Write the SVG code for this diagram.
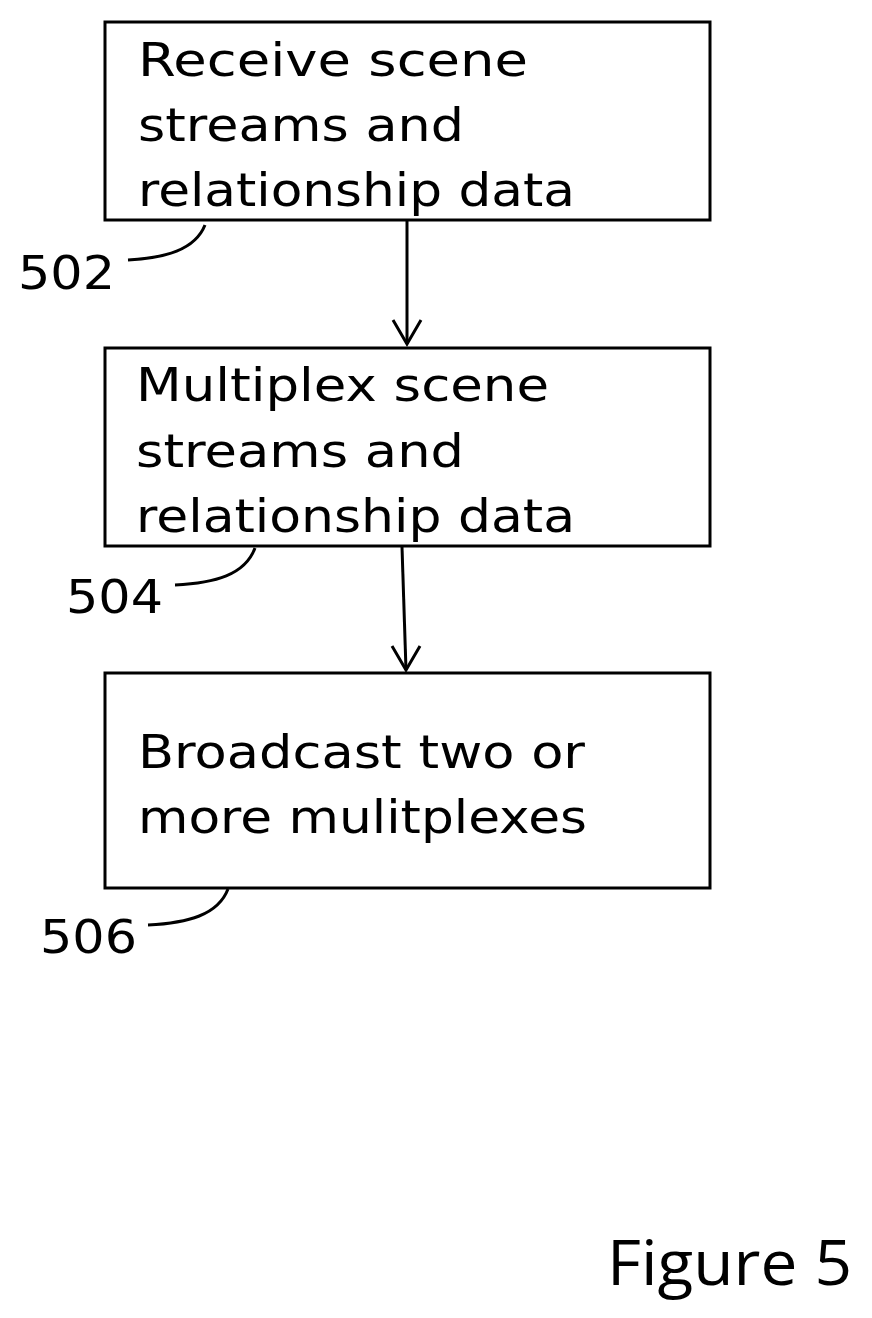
<svg xmlns="http://www.w3.org/2000/svg" width="872" height="1318" viewBox="0 0 872 1318">
<style>
.box{fill:#fff;stroke:#000;stroke-width:3}
.t{font-family:"DejaVu Sans","Liberation Sans",sans-serif;font-size:47px;fill:#000}
.ln{fill:none;stroke:#000;stroke-width:3}
</style>
<rect width="872" height="1318" fill="#fff"/>
<g id="connectors">
<line class="ln" x1="407" y1="221" x2="407" y2="344"/>
<polyline class="ln" points="393,320 407,344 421,320"/>
<line class="ln" x1="402" y1="547" x2="406" y2="670"/>
<polyline class="ln" points="392,646 406,670 420,646"/>
<path class="ln" d="M205,225 C195,250 165,258 128,260"/>
<path class="ln" d="M255,548 C245,575 215,583 175,585"/>
<path class="ln" d="M228,889 C218,915 188,923 148,925"/>
</g>
<g id="n502">
<rect class="box" x="105" y="22" width="605" height="198"/>
<text class="t" x="138" y="76" textLength="390" lengthAdjust="spacingAndGlyphs">Receive scene</text>
<text class="t" x="138" y="141" textLength="326" lengthAdjust="spacingAndGlyphs">streams and</text>
<text class="t" x="138" y="206" textLength="437" lengthAdjust="spacingAndGlyphs">relationship data</text>
<text class="t" x="18" y="289" textLength="97" lengthAdjust="spacingAndGlyphs">502</text>
</g>
<g id="n504">
<rect class="box" x="105" y="348" width="605" height="198"/>
<text class="t" x="136" y="401" textLength="413" lengthAdjust="spacingAndGlyphs">Multiplex scene</text>
<text class="t" x="136" y="467" textLength="328" lengthAdjust="spacingAndGlyphs">streams and</text>
<text class="t" x="136" y="532" textLength="439" lengthAdjust="spacingAndGlyphs">relationship data</text>
<text class="t" x="66" y="613" textLength="97" lengthAdjust="spacingAndGlyphs">504</text>
</g>
<g id="n506">
<rect class="box" x="105" y="673" width="605" height="215"/>
<text class="t" x="138" y="768" textLength="447" lengthAdjust="spacingAndGlyphs">Broadcast two or</text>
<text class="t" x="138" y="833" textLength="449" lengthAdjust="spacingAndGlyphs">more mulitplexes</text>
<text class="t" x="40" y="953" textLength="97" lengthAdjust="spacingAndGlyphs">506</text>
</g>
<text x="607" y="1285" textLength="245" lengthAdjust="spacingAndGlyphs" style="font-family:'Open Sans','Liberation Sans',sans-serif;font-size:62px;fill:#000">Figure 5</text>
</svg>
